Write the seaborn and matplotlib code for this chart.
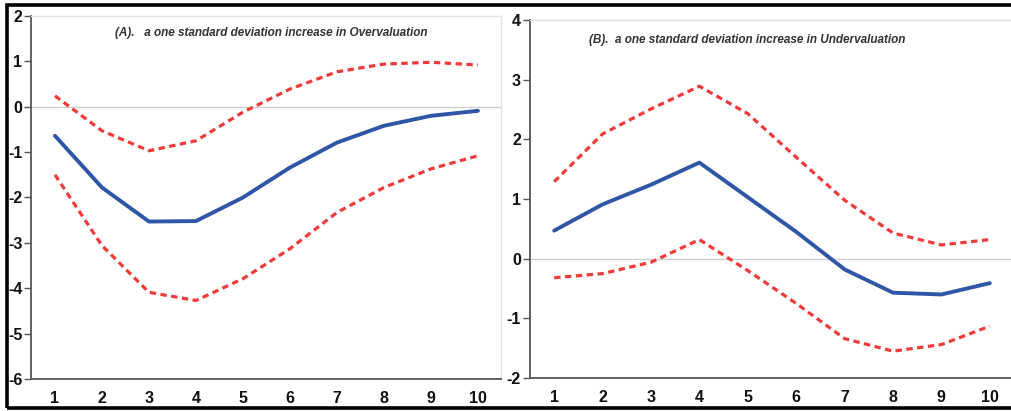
import matplotlib
matplotlib.use("Agg")
import matplotlib.pyplot as plt
from matplotlib.patches import Rectangle
from matplotlib.ticker import FixedLocator
import numpy as np
import pandas as pd
import seaborn as sns

periods = list(range(1, 11))

over_response = [-0.64, -1.78, -2.53, -2.52, -2.0, -1.34, -0.79, -0.42, -0.2, -0.09]
over_upper = [0.24, -0.53, -0.97, -0.75, -0.12, 0.39, 0.77, 0.94, 0.98, 0.92]
over_lower = [-1.5, -3.06, -4.09, -4.27, -3.79, -3.13, -2.33, -1.78, -1.37, -1.08]

under_response = [0.47, 0.91, 1.24, 1.61, 1.03, 0.45, -0.18, -0.57, -0.6, -0.41]
under_upper = [1.29, 2.09, 2.51, 2.89, 2.43, 1.7, 0.98, 0.43, 0.23, 0.32]
under_lower = [-0.32, -0.25, -0.06, 0.32, -0.2, -0.75, -1.34, -1.55, -1.44, -1.13]

title_a = "(A).   a one standard deviation increase in Overvaluation"
title_b = "(B).  a one standard deviation increase in Undervaluation"

BLUE = "#2F56A6"
RED = "#F03A3A"

sns.set_style("white")
plt.rcParams["font.family"] = ["Liberation Sans Narrow", "Liberation Sans", "DejaVu Sans"]
plt.rcParams["axes.unicode_minus"] = False


def draw_panel(ax, resp, upper, lower, ylim, title, title_xy):
    df = pd.DataFrame({"period": periods, "resp": resp, "upper": upper, "lower": lower})
    ax.axhline(0, color="#cfcfcf", lw=1.0, zorder=1)
    sns.lineplot(data=df, x="period", y="upper", ax=ax, color=RED, lw=2.3,
                 linestyle=(0, (2.0, 1.4)), zorder=3)
    sns.lineplot(data=df, x="period", y="lower", ax=ax, color=RED, lw=2.3,
                 linestyle=(0, (2.0, 1.4)), zorder=3)
    sns.lineplot(data=df, x="period", y="resp", ax=ax, color=BLUE, lw=2.8, zorder=4)
    ax.set_xlim(0.5, 10.5)
    ax.set_ylim(*ylim)
    ax.set_yticks(np.arange(ylim[0], ylim[1] + 1, 1))
    ax.set_xticks(periods)
    ax.xaxis.set_minor_locator(FixedLocator(np.arange(0.5, 11.0, 1.0)))
    ax.tick_params(axis="x", which="major", length=0, pad=9, labelsize=11.5, labelcolor="#111111")
    ax.tick_params(axis="x", which="minor", length=5, width=1, color="#555555", direction="out")
    ax.tick_params(axis="y", which="major", length=5, width=1, color="#555555", direction="out",
                   pad=1.5, labelsize=11.5, labelcolor="#111111", left=True)
    for lab in ax.get_xticklabels() + ax.get_yticklabels():
        lab.set_fontweight("bold")
    ax.set_xlabel("")
    ax.set_ylabel("")
    for side in ("left", "bottom"):
        ax.spines[side].set_color("#555555")
        ax.spines[side].set_linewidth(1.3)
    for side in ("top", "right"):
        ax.spines[side].set_color("#e2e2e2")
        ax.spines[side].set_linewidth(1.0)
    ax.text(title_xy[0], title_xy[1], title, transform=ax.transAxes, ha="center", va="center",
            fontsize=8.5, fontstyle="italic", fontweight="bold", color="#333333",
            family=["Liberation Sans", "DejaVu Sans"])


fig = plt.figure(figsize=(10.12, 4.11), dpi=100)
ax_a = fig.add_axes([0.0311, 0.0779, 0.4644, 0.8832])
ax_b = fig.add_axes([0.5237, 0.0803, 0.4783, 0.8710])

draw_panel(ax_a, over_response, over_upper, over_lower, (-6, 2), title_a, (0.511, 0.953))
draw_panel(ax_b, under_response, under_upper, under_lower, (-2, 4), title_b, (0.448, 0.944))

fig.add_artist(Rectangle((0.0069, 0.0073), 1.2, 0.981, transform=fig.transFigure,
                         fill=False, lw=2.6, ec="black", zorder=10))

fig.savefig("out.png", dpi=100)
